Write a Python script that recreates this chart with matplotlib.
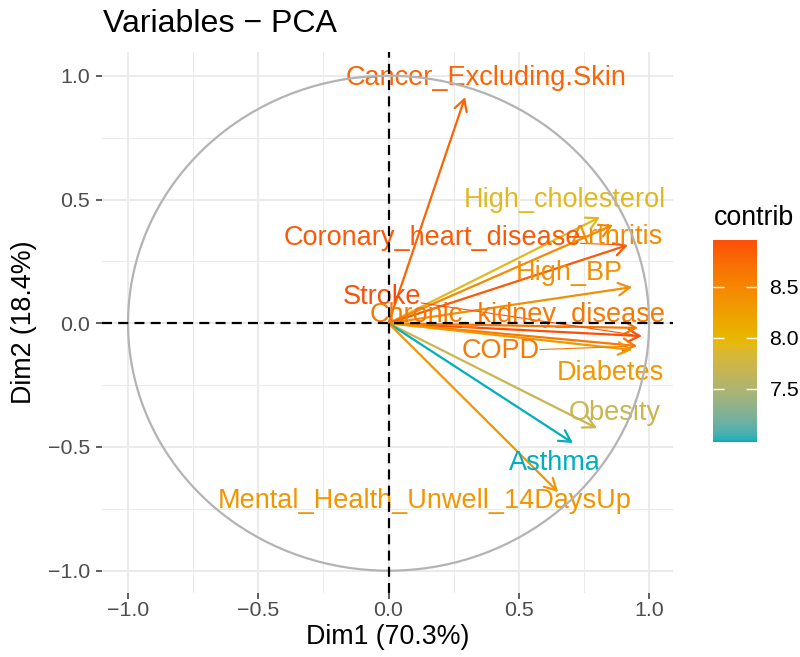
import numpy as np
import matplotlib
matplotlib.use('Agg')
import matplotlib.pyplot as plt
from matplotlib.colors import ListedColormap, Normalize, to_rgb
from matplotlib.cm import ScalarMappable

plt.rcParams['font.family'] = ['Liberation Sans', 'DejaVu Sans']

variables = ['Cancer_Excluding.Skin', 'High_cholesterol', 'Arthritis', 'Coronary_heart_disease',
             'High_BP', 'Stroke', 'Chronic_kidney_disease', 'COPD', 'Diabetes', 'Obesity',
             'Asthma', 'Mental_Health_Unwell_14DaysUp']
dim1 = [0.294, 0.812, 0.862, 0.919, 0.935, 0.973, 0.958, 0.954, 0.935, 0.800, 0.708, 0.651]
dim2 = [0.914, 0.429, 0.397, 0.316, 0.146, -0.052, -0.019, -0.092, -0.108, -0.424, -0.484, -0.682]
contrib = [8.80, 7.92, 8.46, 8.88, 8.41, 8.96, 8.62, 8.63, 8.32, 7.70, 6.98, 8.35]
# where the (repelled) labels ended up
label_x = [0.374, 0.678, 0.877, 0.167, 0.693, -0.025, 0.497, 0.432, 0.853, 0.869, 0.639, 0.137]
label_y = [0.991, 0.498, 0.348, 0.344, 0.203, 0.106, 0.033, -0.112, -0.201, -0.363, -0.565, -0.718]
with_segment = ['Coronary_heart_disease', 'Stroke', 'COPD']

ticks = [-1.0, -0.5, 0.0, 0.5, 1.0]
tick_labels = ['\u22121.0', '\u22120.5', '0.0', '0.5', '1.0']
minor_ticks = [-0.75, -0.25, 0.25, 0.75]
gradient_cols = ['#00AFBB', '#E7B800', '#FC4E07']


# ggplot interpolates gradients in Lab space, do the same
def srgb_to_lab(rgb):
    c = np.asarray(rgb, dtype=float)
    lin = np.where(c <= 0.04045, c / 12.92, ((c + 0.055) / 1.055) ** 2.4)
    M = np.array([[0.4124, 0.3576, 0.1805],
                  [0.2126, 0.7152, 0.0722],
                  [0.0193, 0.1192, 0.9505]])
    xyz = M @ lin / np.array([0.95047, 1.0, 1.08883])
    f = np.where(xyz > 0.008856, np.cbrt(xyz), 7.787 * xyz + 16 / 116)
    return np.array([116 * f[1] - 16, 500 * (f[0] - f[1]), 200 * (f[1] - f[2])])


def lab_to_srgb(lab):
    L, a, b = lab
    fy = (L + 16) / 116
    fx = fy + a / 500
    fz = fy - b / 200
    f = np.array([fx, fy, fz])
    xyz = np.where(f ** 3 > 0.008856, f ** 3, (f - 16 / 116) / 7.787) * np.array([0.95047, 1.0, 1.08883])
    Minv = np.array([[3.2406, -1.5372, -0.4986],
                     [-0.9689, 1.8758, 0.0415],
                     [0.0557, -0.2040, 1.0570]])
    lin = Minv @ xyz
    c = np.where(lin <= 0.0031308, 12.92 * lin, 1.055 * np.clip(lin, 0, None) ** (1 / 2.4) - 0.055)
    return np.clip(c, 0, 1)


labs = [srgb_to_lab(to_rgb(c)) for c in gradient_cols]
cols = []
for s in np.linspace(0, 1, 256):
    pos = s * (len(labs) - 1)
    i = min(int(pos), len(labs) - 2)
    w = pos - i
    cols.append(lab_to_srgb((1 - w) * labs[i] + w * labs[i + 1]))
cmap = ListedColormap(cols)
the_norm = Normalize(vmin=min(contrib), vmax=max(contrib))

fig = plt.figure(figsize=(8, 6.57), dpi=100)
ax = fig.add_axes([102 / 800, 1 - 593 / 657, 571 / 800, 541 / 657])
ax.set_xlim(-1.1, 1.092)
ax.set_ylim(-1.09, 1.096)

ax.set_xticks(ticks)
ax.set_xticklabels(tick_labels)
ax.set_yticks(ticks)
ax.set_yticklabels(tick_labels)
ax.set_xticks(minor_ticks, minor=True)
ax.set_yticks(minor_ticks, minor=True)
ax.grid(which='major', color='#EBEBEB', lw=1.4, zorder=0)
ax.grid(which='minor', color='#EBEBEB', lw=0.7, zorder=0)
ax.set_axisbelow(True)
for sp in ax.spines.values():
    sp.set_visible(False)
ax.tick_params(which='major', length=4.5, width=1.1, color='#333333',
               labelsize=15.4, labelcolor='#4D4D4D')
ax.tick_params(axis='x', pad=1.5)
ax.tick_params(axis='y', pad=4)
ax.tick_params(which='minor', length=0)

ax.set_xlabel('Dim1 (70.3%)', fontsize=19.25, labelpad=3)
ax.set_ylabel('Dim2 (18.4%)', fontsize=19.25, labelpad=8)

colors = [cmap(the_norm(v)) for v in contrib]

for x, y, c in zip(dim1, dim2, colors):
    ax.annotate('', xy=(x, y), xytext=(0, 0),
                arrowprops=dict(arrowstyle='->,head_length=0.55,head_width=0.3',
                                color=c, lw=1.6, shrinkA=0, shrinkB=0,
                                mutation_scale=15), zorder=2)

texts = []
for name, lx, ly, c in zip(variables, label_x, label_y, colors):
    t = ax.text(lx, ly, name, color=c, fontsize=19.5, ha='center', va='center', zorder=3)
    texts.append(t)

# repel segments from label edge to arrow tip
fig.canvas.draw()
renderer = fig.canvas.get_renderer()
inv = ax.transData.inverted()
for name, t, x, y, c in zip(variables, texts, dim1, dim2, colors):
    if name not in with_segment:
        continue
    bb = t.get_window_extent(renderer)
    cx, cy = (bb.x0 + bb.x1) / 2, (bb.y0 + bb.y1) / 2
    px, py = ax.transData.transform((x, y))
    dx, dy = px - cx, py - cy
    tx = ((bb.x1 if dx > 0 else bb.x0) - cx) / dx
    ty = ((bb.y1 if dy > 0 else bb.y0) - cy) / dy if dy != 0 else np.inf
    te = min(tx, ty)
    sx, sy = cx + te * dx, cy + te * dy
    d = np.hypot(px - sx, py - sy)
    ex, ey = px - 10 * (px - sx) / d, py - 10 * (py - sy) / d
    (x0, y0), (x1, y1) = inv.transform([(sx, sy), (ex, ey)])
    ax.plot([x0, x1], [y0, y1], color=c, lw=0.8, zorder=2.5)

theta = np.linspace(0, 2 * np.pi, 300)
ax.plot(np.cos(theta), np.sin(theta), color='#B3B3B3', lw=1.6, zorder=4)
ax.axhline(0, color='black', lw=1.6, ls=(0, (4.5, 2.8)), zorder=4)
ax.axvline(0, color='black', lw=1.6, ls=(0, (4.5, 2.8)), zorder=4)

fig.text(103 / 800, 1 - 32 / 657, 'Variables \u2212 PCA', fontsize=23.1, va='baseline')

# legend
cax = fig.add_axes([713 / 800, 1 - 442 / 657, 44 / 800, 202 / 657])
cb = fig.colorbar(ScalarMappable(norm=the_norm, cmap=cmap), cax=cax, ticks=[7.5, 8.0, 8.5])
cb.outline.set_visible(False)
cax.set_yticklabels(['7.5', '8.0', '8.5'])
cax.tick_params(left=True, right=True, direction='in', color='white', length=8,
                width=1, labelsize=15.4, pad=9)
fig.text(714 / 800, 1 - 225 / 657, 'contrib', fontsize=19.25, va='baseline')

fig.savefig('out.png', dpi=100)
